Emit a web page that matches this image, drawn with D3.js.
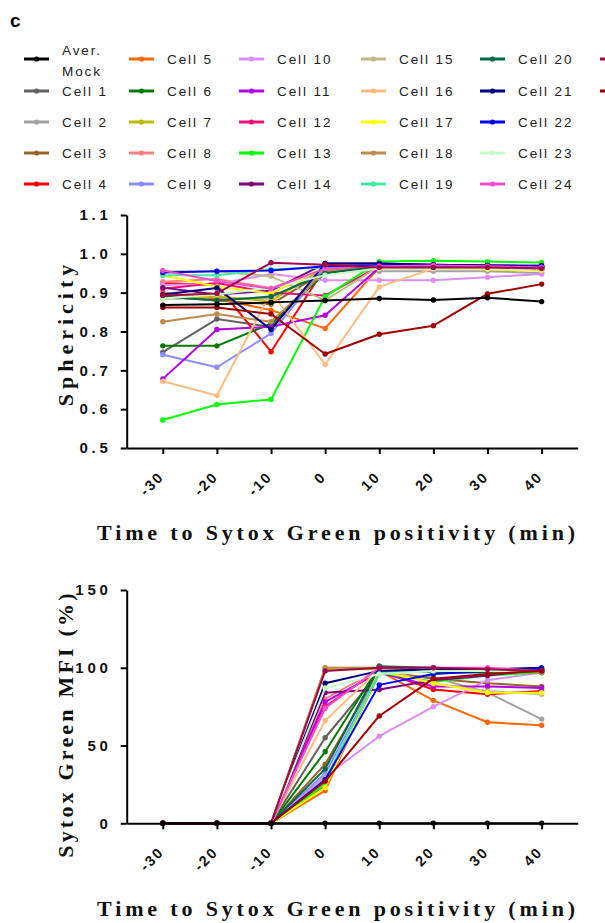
<!DOCTYPE html>
<html><head><meta charset="utf-8">
<script src="https://cdn.jsdelivr.net/npm/d3@7"></script>
<style>
body{margin:0;background:#fff;}
svg{display:block;}
</style></head>
<body><svg id="c" width="605" height="923"></svg>
<script>
const times = [-30,-20,-10,0,10,20,30,40];
const xTickLabels = ["-30","-20","-10","0","10","20","30","40"];
const sphericityTicks = [0.5,0.6,0.7,0.8,0.9,1.0,1.1];
const mfiTicks = [0,50,100,150];
const seriesNames = ["Aver. Mock","Cell 1","Cell 2","Cell 3","Cell 4","Cell 5","Cell 6","Cell 7","Cell 8","Cell 9","Cell 10","Cell 11","Cell 12","Cell 13","Cell 14","Cell 15","Cell 16","Cell 17","Cell 18","Cell 19","Cell 20","Cell 21","Cell 22","Cell 23","Cell 24","Cell 25","Cell 26"];
const seriesColors = ["#000000","#616161","#a3a3a3","#94642a","#ff0000","#ff6600","#007a00","#bdbd00","#ff8080","#8c8cff","#de8cf7","#b300e6","#ee1177","#00ff00","#800080","#c2b884","#ffbb80","#ffff00","#c08a4a","#40eaa5","#006b45","#000080","#0000ff","#c8fcc8","#f050d0","#a0084a","#a00000"];
const sphericity = [
 [0.868,0.870,0.875,0.880,0.885,0.881,0.887,0.877],
 [0.747,0.832,0.812,0.960,0.965,0.965,0.965,0.962],
 [0.885,0.885,0.885,0.955,0.955,0.955,0.955,0.950],
 [0.890,0.880,0.870,0.955,0.965,0.965,0.962,0.960],
 [0.925,0.920,0.748,0.965,0.968,0.968,0.968,0.965],
 [0.900,0.885,0.855,0.808,0.965,0.965,0.965,0.965],
 [0.763,0.763,0.820,0.950,0.970,0.970,0.968,0.965],
 [0.885,0.890,0.878,0.965,0.962,0.962,0.960,0.958],
 [0.928,0.935,0.912,0.960,0.968,0.968,0.968,0.965],
 [0.740,0.708,0.795,0.965,0.968,0.968,0.968,0.965],
 [0.920,0.922,0.948,0.932,0.932,0.932,0.940,0.948],
 [0.678,0.805,0.812,0.842,0.965,0.965,0.965,0.960],
 [0.910,0.925,0.900,0.893,0.968,0.970,0.970,0.968],
 [0.572,0.612,0.625,0.890,0.980,0.982,0.980,0.978],
 [0.913,0.895,0.905,0.975,0.975,0.972,0.970,0.970],
 [0.955,0.955,0.942,0.880,0.968,0.968,0.968,0.965],
 [0.672,0.635,0.902,0.715,0.915,0.962,0.965,0.965],
 [0.945,0.915,0.898,0.965,0.965,0.962,0.960,0.958],
 [0.825,0.845,0.825,0.955,0.968,0.968,0.968,0.965],
 [0.945,0.945,0.960,0.965,0.968,0.968,0.968,0.965],
 [0.890,0.880,0.890,0.950,0.968,0.968,0.968,0.965],
 [0.895,0.912,0.805,0.975,0.975,0.972,0.970,0.968],
 [0.952,0.955,0.957,0.968,0.970,0.970,0.968,0.968],
 [0.885,0.895,0.912,0.945,0.962,0.962,0.962,0.960],
 [0.957,0.930,0.910,0.962,0.968,0.970,0.968,0.965],
 [0.893,0.898,0.977,0.972,0.965,0.965,0.965,0.962],
 [0.862,0.862,0.845,0.742,0.793,0.815,0.897,0.922]
];
const mfi = [
 [0,0,0,0,0,0,0,0],
 [0,0,0,55,97,98,98,97],
 [0,0,0,25,96,94,84,67],
 [0,0,0,38,98,93,90,88],
 [0,0,0,24,98,86,83,85],
 [0,0,0,21,98,79,65,63],
 [0,0,0,46,101,97,97,98],
 [0,0,0,99,99,98,98,97],
 [0,0,0,80,99,98,98,98],
 [0,0,0,32,97,98,98,99],
 [0,0,0,30,56,75,92,97],
 [0,0,0,78,97,88,88,87],
 [0,0,0,75,99,99,99,98],
 [0,0,0,25,97,91,95,97],
 [0,0,0,84,86,92,95,99],
 [0,0,0,100,100,90,85,83],
 [0,0,0,66,99,99,99,98],
 [0,0,0,23,98,90,84,84],
 [0,0,0,100,100,99,98,97],
 [0,0,0,28,97,98,98,98],
 [0,0,0,35,101,100,99,98],
 [0,0,0,90,98,99,99,100],
 [0,0,0,28,89,96,98,99],
 [0,0,0,87,96,98,98,98],
 [0,0,0,74,100,100,100,98],
 [0,0,0,98,100,100,99,98],
 [0,0,0,27,69,93,96,98]
];

const svg = d3.select("#c");
const sans = "'Liberation Sans', Arial, sans-serif";
const serif = "'Liberation Serif', 'Times New Roman', serif";

svg.append("text").attr("x",10).attr("y",27).text("c")
  .style("font-family",sans).style("font-weight","bold").style("font-size","19px");

// legend
const legCols = [24,129,239,361,480,600];
const legRows = [59,91,122,153,184];
const legend = svg.append("g");
seriesNames.forEach((name,i)=>{
  let col, row;
  if (i < 5) { col = 0; row = i; } else { col = Math.floor((i-5)/5)+1; row = (i-5)%5; }
  const x = legCols[col], y = legRows[row];
  const g = legend.append("g").attr("transform",`translate(${x},${y})`);
  g.append("line").attr("x1",0).attr("x2",25).attr("y1",0).attr("y2",0)
    .attr("stroke",seriesColors[i]).attr("stroke-width",3);
  g.append("circle").attr("cx",12.5).attr("cy",0).attr("r",2.6).attr("fill",seriesColors[i]);
  const t = g.append("text").attr("x",38)
    .style("font-family",sans).style("font-size","13.5px").style("letter-spacing","1.9px").attr("fill","#222");
  if (name === "Aver. Mock") {
    t.append("tspan").attr("x",38).attr("y",-4).text("Aver.");
    t.append("tspan").attr("x",38).attr("y",17).text("Mock");
  } else {
    t.attr("y",5).text(name);
  }
});

function panel(opts){
  const x = d3.scaleLinear().domain([-36.67,46.67]).range([126.7,577.7]);
  const y = d3.scaleLinear().domain(opts.domain).range([opts.bottom, opts.top]);
  const g = svg.append("g");
  const line = d3.line().x((d,j)=>x(times[j])).y(d=>y(d));
  opts.data.forEach((vals,i)=>{
    if (i===0) return;
    g.append("path").datum(vals).attr("d",line).attr("fill","none")
      .attr("stroke",seriesColors[i]).attr("stroke-width",2).attr("stroke-linejoin","round");
    g.selectAll(null).data(vals).enter().append("circle")
      .attr("cx",(d,j)=>x(times[j])).attr("cy",d=>y(d)).attr("r",2.7).attr("fill",seriesColors[i]);
  });
  // mock on top
  const mv = opts.data[0];
  g.append("path").datum(mv).attr("d",line).attr("fill","none").attr("stroke",seriesColors[0]).attr("stroke-width",2);
  g.selectAll(null).data(mv).enter().append("circle")
    .attr("cx",(d,j)=>x(times[j])).attr("cy",d=>y(d)).attr("r",2.7).attr("fill",seriesColors[0]);

  const ya = svg.append("g").attr("transform",`translate(126.7,0)`)
    .call(d3.axisLeft(y).tickValues(opts.ticks).tickFormat(opts.fmt).tickSize(6).tickSizeOuter(0));
  ya.select(".domain").attr("stroke","#000").attr("stroke-width",2);
  ya.selectAll(".tick line").attr("stroke","#000").attr("stroke-width",2);
  ya.selectAll(".tick text").style("font-family",sans).style("font-weight","bold")
    .style("font-size","15px").style("letter-spacing","3.8px").attr("fill","#111").attr("x",-15);

  const xa = svg.append("g").attr("transform",`translate(0,${opts.bottom})`)
    .call(d3.axisBottom(x).tickValues(times).tickFormat((d,i)=>xTickLabels[i]).tickSize(6).tickSizeOuter(0));
  xa.select(".domain").attr("stroke","#000").attr("stroke-width",2);
  xa.selectAll(".tick line").attr("stroke","#000").attr("stroke-width",2);
  xa.selectAll(".tick text").style("font-family",sans).style("font-weight","bold")
    .style("font-size","14.5px").style("letter-spacing","2px").attr("fill","#111")
    .attr("text-anchor","end").attr("dy","0.35em").attr("y",0)
    .attr("transform","translate(-2,26) rotate(-45)");

  svg.append("text").attr("x",338).attr("y",opts.xTitleY).attr("text-anchor","middle")
    .style("font-family",serif).style("font-weight","bold").style("font-size","22px")
    .style("letter-spacing","3.85px").attr("fill","#111").text("Time to Sytox Green positivity (min)");
  svg.append("text").attr("transform",`translate(73,${opts.yTitleY}) rotate(-90)`).attr("text-anchor","middle")
    .style("font-family",serif).style("font-weight","bold").style("font-size","22px")
    .style("letter-spacing",opts.yTitleSpacing).attr("fill","#111").text(opts.yTitle);
}

panel({data:sphericity, domain:[0.5,1.1], top:215, bottom:448, ticks:sphericityTicks, fmt:d3.format(".1f"),
  xTitleY:540, yTitle:"Sphericity", yTitleY:333, yTitleSpacing:"5px"});
panel({data:mfi, domain:[0,150], top:590, bottom:823.3, ticks:mfiTicks, fmt:d3.format("d"),
  xTitleY:916, yTitle:"Sytox Green MFI (%)", yTitleY:724, yTitleSpacing:"3.2px"});
</script></body></html>
